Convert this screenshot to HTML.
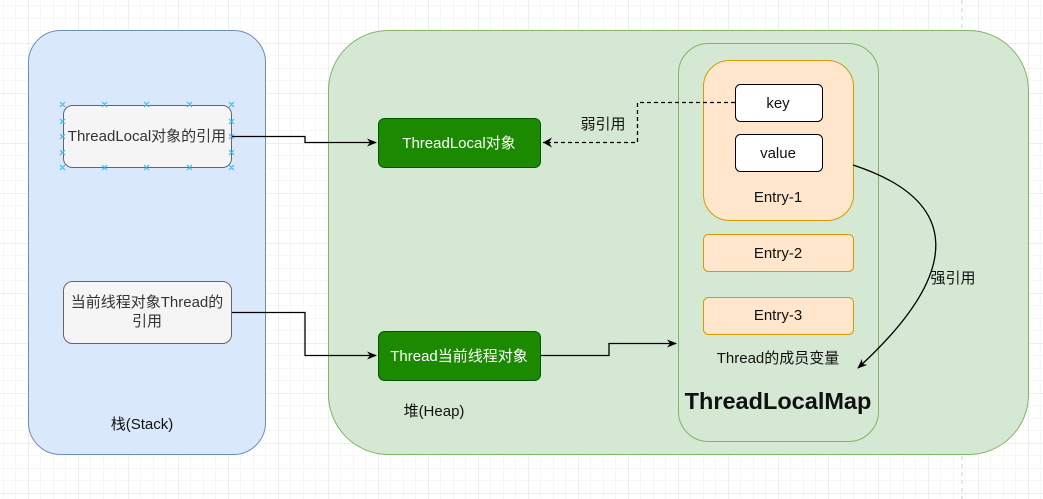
<!DOCTYPE html>
<html><head><meta charset="utf-8"><style>
html,body{margin:0;padding:0;background:#fff;}
svg{display:block;}
text{font-family:"Liberation Sans","Noto Sans CJK SC",sans-serif;}
</style></head><body>
<svg width="1043" height="499" viewBox="0 0 1043 499" xmlns="http://www.w3.org/2000/svg">
<defs>
<pattern id="minor" x="3" y="5.5" width="12.5" height="12.5" patternUnits="userSpaceOnUse">
<path d="M0 0V12.5M0 0H12.5" stroke="#efefef" stroke-width="1" fill="none"/>
</pattern>
<pattern id="major" x="28" y="43" width="50" height="50" patternUnits="userSpaceOnUse">
<path d="M0 0V50M0 0H50" stroke="#dcdcdc" stroke-width="1" fill="none"/>
</pattern>
<marker id="arr" markerWidth="10" markerHeight="10" refX="9" refY="5" orient="auto" markerUnits="userSpaceOnUse">
<path d="M0 1L10 5L0 9L3 5Z" fill="#000"/>
</marker>
<marker id="arro" markerWidth="12" markerHeight="12" refX="10" refY="6" orient="auto" markerUnits="userSpaceOnUse">
<path d="M1 1L10 6L1 11L4 6Z" fill="#000"/>
</marker>
</defs>
<rect width="1043" height="499" fill="url(#minor)"/>
<rect width="1043" height="499" fill="url(#major)"/>
<line x1="962" y1="0" x2="962" y2="499" stroke="#cfcfcf" stroke-dasharray="4 4"/>

<rect x="28.5" y="30.5" width="237" height="424" rx="32" fill="#dae8fc" stroke="#6c8ebf"/>
<rect x="328.5" y="30.5" width="700" height="424" rx="60" fill="#d5e8d4" stroke="#82b366"/>
<rect x="678.5" y="43.5" width="200" height="398" rx="30" fill="#d5e8d4" stroke="#82b366"/>

<rect x="703.5" y="60.5" width="150" height="160" rx="26" fill="#ffe6cc" stroke="#d79b00"/>
<rect x="735.5" y="84.5" width="87" height="37" rx="5" fill="#fff" stroke="#000"/>
<rect x="735.5" y="134.5" width="87" height="37" rx="5" fill="#fff" stroke="#000"/>
<rect x="703.5" y="234.5" width="150" height="37" rx="5" fill="#ffe6cc" stroke="#d79b00"/>
<rect x="703.5" y="297.5" width="150" height="37" rx="5" fill="#ffe6cc" stroke="#d79b00"/>

<rect x="63.5" y="105.5" width="168" height="62" rx="9" fill="#f5f5f5" stroke="#666"/>
<rect x="63.5" y="281.5" width="168" height="62" rx="9" fill="#f5f5f5" stroke="#666"/>
<g stroke="#3bb9f0" stroke-width="1.2">
<path d="M60 102l5 5M65 102l-5 5M102 102l5 5M107 102l-5 5M144 102l5 5M149 102l-5 5M187 102l5 5M192 102l-5 5M229 102l5 5M234 102l-5 5"/>
<path d="M60 165l5 5M65 165l-5 5M102 165l5 5M107 165l-5 5M144 165l5 5M149 165l-5 5M187 165l5 5M192 165l-5 5M229 165l5 5M234 165l-5 5"/>
<path d="M60 119l5 5M65 119l-5 5M60 134l5 5M65 134l-5 5M60 150l5 5M65 150l-5 5M229 119l5 5M234 119l-5 5M229 134l5 5M234 134l-5 5M229 150l5 5M234 150l-5 5"/>
</g>

<rect x="378.5" y="118.5" width="162" height="49" rx="6" fill="#1b8a00" stroke="#005700"/>
<rect x="378.5" y="331.5" width="162" height="49" rx="6" fill="#1b8a00" stroke="#005700"/>

<g fill="none" stroke="#000" stroke-width="1.3">
<path d="M232 136.5H305V142.5H376" marker-end="url(#arr)"/>
<path d="M232 312.5H305V355.5H376" marker-end="url(#arr)"/>
<path d="M541 355.5H609V343.5H676" marker-end="url(#arr)"/>
<path d="M735 102.5H637.5V142.5H543" stroke-dasharray="4 3" marker-end="url(#arro)"/>
<path d="M853 165C960 200 965 270 858 368" marker-end="url(#arr)"/>
</g>

<g font-size="15" text-anchor="middle" fill="#111">
<text x="147" y="141" fill="#333">ThreadLocal对象的引用</text>
<text x="147" y="307" fill="#333">当前线程对象Thread的</text>
<text x="147" y="326" fill="#333">引用</text>
<text x="459" y="148" fill="#fff">ThreadLocal对象</text>
<text x="459" y="361" fill="#fff">Thread当前线程对象</text>
<text x="778" y="108">key</text>
<text x="778" y="158">value</text>
<text x="778" y="202">Entry-1</text>
<text x="778" y="258">Entry-2</text>
<text x="778" y="320">Entry-3</text>
<text x="778" y="363">Thread的成员变量</text>
<text x="603" y="129">弱引用</text>
<text x="953" y="283">强引用</text>
<text x="142" y="429">栈(Stack)</text>
<text x="434" y="416">堆(Heap)</text>
<text x="778" y="409" font-size="23.5" font-weight="bold">ThreadLocalMap</text>
</g>
</svg>
</body></html>
